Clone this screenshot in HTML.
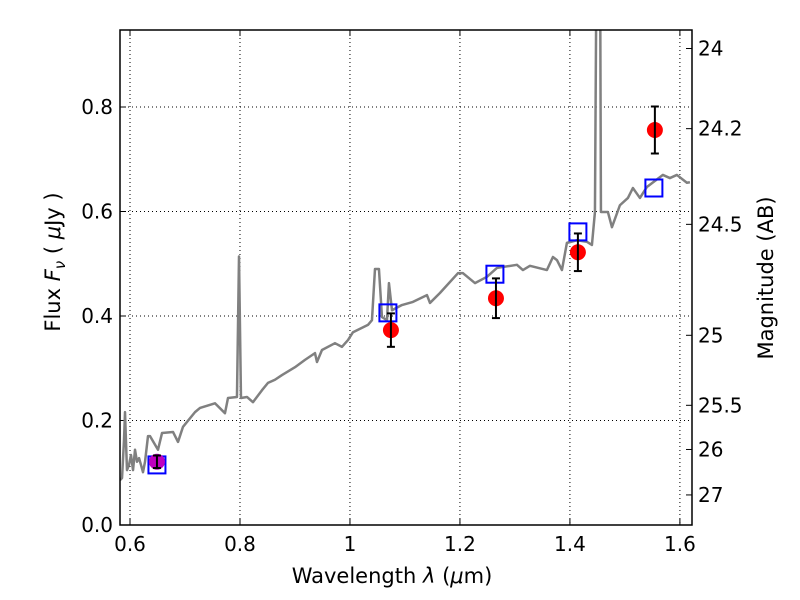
<!DOCTYPE html>
<html><head><meta charset="utf-8"><style>
body{margin:0;background:#fff}
svg{display:block;font-family:"DejaVu Sans","Liberation Sans",sans-serif}
</style></head><body>
<svg id="chart" width="800" height="600"></svg>
<script>
const specWl=[0.5818,0.5855,0.5891,0.5909,0.5927,0.5945,0.5982,0.6018,0.6055,0.6091,0.6127,0.6164,0.62,0.6236,0.6273,0.6327,0.6364,0.6509,0.6582,0.6782,0.6873,0.6964,0.7182,0.7273,0.7545,0.7727,0.7782,0.7945,0.7982,0.8018,0.8127,0.8236,0.84,0.8509,0.8636,0.8764,0.9,0.9182,0.9364,0.94,0.9491,0.9727,0.9855,0.9964,1.0055,1.0327,1.04,1.0455,1.0527,1.0582,1.0673,1.0709,1.0764,1.0945,1.1145,1.14,1.1455,1.1636,1.1964,1.2055,1.2273,1.2491,1.2673,1.3036,1.3145,1.3273,1.3582,1.3691,1.3764,1.3855,1.3945,1.4127,1.4309,1.44,1.4455,1.449,1.4545,1.4564,1.4691,1.4764,1.4909,1.5055,1.5145,1.5273,1.54,1.5691,1.5818,1.5945,1.6127,1.6182];
const specF=[0.086,0.09,0.163,0.216,0.16,0.105,0.115,0.134,0.105,0.144,0.121,0.128,0.115,0.101,0.121,0.170,0.170,0.144,0.176,0.178,0.159,0.188,0.216,0.224,0.233,0.214,0.243,0.245,0.514,0.243,0.245,0.235,0.258,0.272,0.278,0.287,0.302,0.316,0.329,0.312,0.335,0.348,0.341,0.354,0.369,0.383,0.392,0.49,0.49,0.398,0.392,0.463,0.411,0.421,0.427,0.44,0.425,0.444,0.482,0.482,0.463,0.475,0.492,0.498,0.488,0.496,0.488,0.513,0.507,0.488,0.54,0.545,0.542,0.536,0.599,1.2,1.2,0.599,0.599,0.570,0.612,0.626,0.645,0.626,0.647,0.67,0.664,0.67,0.655,0.656];
const obsWl=[1.0745,1.2655,1.4145,1.5545];
const obsF=[0.373,0.434,0.522,0.756];
const obsErr=[0.032,0.038,0.036,0.045];
const riWl=[0.649];const riF=[0.121];const riErr=[0.012];
const modWl=[0.649,1.069,1.2636,1.4145,1.5527];
const modF=[0.115,0.406,0.48,0.561,0.645];
const xTicks=[0.6,0.8,1.0,1.2,1.4,1.6];
const xTickLabels=["0.6","0.8","1","1.2","1.4","1.6"];
const yTicks=[0,0.2,0.4,0.6,0.8];
const yTickLabels=["0.0","0.2","0.4","0.6","0.8"];
const magTicks=[24,24.2,24.5,25,25.5,26,27];
const magTickLabels=["24","24.2","24.5","25","25.5","26","27"];

const L=120,R=692,T=30,B=525;
const x0=0.5818,x1=1.622,y0=0,y1=0.9474;
const X=v=>L+(v-x0)/(x1-x0)*(R-L);
const Y=v=>B-(v-y0)/(y1-y0)*(B-T);
const svg=document.getElementById('chart');
const NS='http://www.w3.org/2000/svg';
function mk(tag,at,parent){const e=document.createElementNS(NS,tag);for(const k in at)e.setAttribute(k,at[k]);(parent||svg).appendChild(e);return e;}

const defs=mk('defs',{});const cp=mk('clipPath',{id:'clip'},defs);mk('rect',{x:L,y:T,width:R-L,height:B-T},cp);

xTicks.forEach((t,i)=>{
 const g=mk('line',{x1:X(t),x2:X(t),y1:T,y2:B,stroke:'#000','stroke-width':1,'stroke-dasharray':'1,3'});
 
 
 mk('line',{x1:X(t),x2:X(t),y1:B,y2:B-6,stroke:'#000'});
 mk('line',{x1:X(t),x2:X(t),y1:T,y2:T+6,stroke:'#000'});
 const tx=mk('text',{x:X(t),y:B+26,'font-size':20,'text-anchor':'middle'});tx.textContent=xTickLabels[i];
 
 
});
yTicks.forEach((t,i)=>{
 const g=mk('line',{x1:L,x2:R,y1:Y(t),y2:Y(t),stroke:'#000','stroke-width':1,'stroke-dasharray':'1,3'});
 
 
 mk('line',{x1:L,x2:L+6,y1:Y(t),y2:Y(t),stroke:'#000'});
 const tx=mk('text',{x:L-7,y:Y(t)+7,'font-size':20,'text-anchor':'end'});tx.textContent=yTickLabels[i];
 
 
});
magTicks.forEach((m,i)=>{
 const f=Math.pow(10,(23.9-m)/2.5);const y=Y(f);
 mk('line',{x1:R,x2:R-6,y1:y,y2:y,stroke:'#000'});
 const tx=mk('text',{x:R+6,y:y+7,'font-size':20});tx.textContent=magTickLabels[i];
 
 
});

const pl=mk('polyline',{points:specWl.map((w,i)=>X(w)+','+Y(specF[i])).join(' '),fill:'none',stroke:'#808080','stroke-width':2.5,'clip-path':'url(#clip)','stroke-linejoin':'round'});



function errPoint(w,f,e,col,name){
 const g=mk('g',{});
 
 
 mk('circle',{cx:X(w),cy:Y(f),r:8,fill:col},g);
 mk('line',{x1:X(w),x2:X(w),y1:Y(f-e),y2:Y(f+e),stroke:'#000','stroke-width':2},g);
 mk('line',{x1:X(w)-4,x2:X(w)+4,y1:Y(f-e),y2:Y(f-e),stroke:'#000','stroke-width':2},g);
 mk('line',{x1:X(w)-4,x2:X(w)+4,y1:Y(f+e),y2:Y(f+e),stroke:'#000','stroke-width':2},g);
}
modWl.forEach((w,i)=>{
 const r=mk('rect',{x:X(w)-8.5,y:Y(modF[i])-8.5,width:17,height:17,fill:'none',stroke:'#0000ff','stroke-width':2});
 
 
});
obsWl.forEach((w,i)=>errPoint(w,obsF[i],obsErr[i],'#ff0000','observed-flux-point'));
riWl.forEach((w,i)=>errPoint(w,riF[i],riErr[i],'#bf00bf','optical-flux-point'));

const fr=mk('rect',{x:L,y:T,width:R-L,height:B-T,fill:'none',stroke:'#000','stroke-width':1.5});


</script>
<svg style="position:absolute;left:0;top:0" width="800" height="600">
<text x="392" y="583" font-size="21" text-anchor="middle" font-family="DejaVu Sans,sans-serif">Wavelength  <tspan font-style="italic">λ</tspan> (<tspan font-style="italic">μ</tspan>m)</text>
<text transform="translate(60,262) rotate(-90)" font-size="21" text-anchor="middle" font-family="DejaVu Sans,sans-serif">Flux  <tspan font-style="italic">F</tspan><tspan font-style="italic" font-size="15" dy="5">ν</tspan><tspan dy="-5">  (  </tspan><tspan font-style="italic">μ</tspan>Jy )</text>
<text transform="translate(773,278) rotate(-90)" font-size="21" text-anchor="middle" font-family="DejaVu Sans,sans-serif">Magnitude (AB)</text>
</svg>
</body></html>
